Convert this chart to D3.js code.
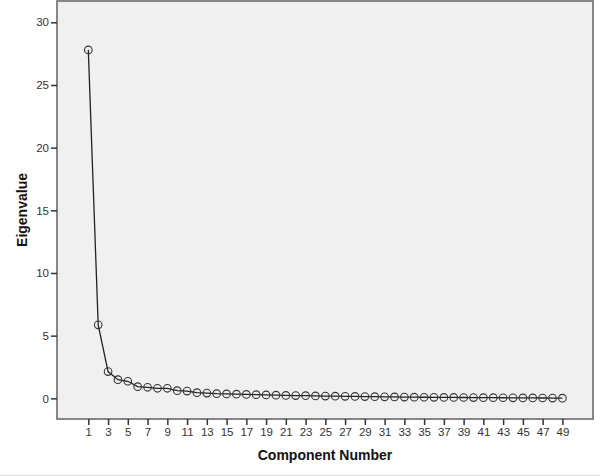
<!DOCTYPE html>
<html>
<head>
<meta charset="utf-8">
<script src="https://cdn.jsdelivr.net/npm/d3@7"></script>
<style>
  body { margin: 0; background: #fff; }
  svg { display: block; font-family: "Liberation Sans", Arial, sans-serif; }
</style>
</head>
<body>
<div id="chart"></div>
<script>
// Scree plot data: component number and eigenvalue
const components = d3.range(1, 50);
const eigenvalues = [
  27.8, 5.86, 2.13, 1.49, 1.36, 0.93, 0.88, 0.80, 0.80, 0.61,
  0.58, 0.45, 0.42, 0.37, 0.35, 0.33, 0.31, 0.29, 0.27, 0.25,
  0.23, 0.22, 0.21, 0.19, 0.18, 0.17, 0.16, 0.15, 0.14, 0.13,
  0.12, 0.11, 0.10, 0.09, 0.085, 0.08, 0.075, 0.07, 0.065, 0.06,
  0.055, 0.05, 0.045, 0.04, 0.035, 0.03, 0.025, 0.02, 0.015
];
const xTicks = d3.range(1, 50, 2);
const yTicks = [0, 5, 10, 15, 20, 25, 30];

const width = 600;
const height = 476;
// plot frame
const plotL = 57, plotR = 593, plotT = 1, plotB = 419;

const svg = d3.select('#chart')
  .append('svg')
  .attr('width', width)
  .attr('height', height);

// scales
const x = d3.scaleLinear()
  .domain([-2.17, 52.1])
  .range([plotL, plotR]);

const y = d3.scaleLinear()
  .domain([-1.65, 31.7])
  .range([plotB, plotT]);

// plot background
svg.append('rect')
  .attr('x', plotL)
  .attr('y', plotT)
  .attr('width', plotR - plotL)
  .attr('height', plotB - plotT)
  .attr('fill', '#f0f0f0');

// line connecting the points
const line = d3.line()
  .x((d, i) => x(components[i]))
  .y(d => y(d));

svg.append('path')
  .datum(eigenvalues)
  .attr('d', line)
  .attr('fill', 'none')
  .attr('stroke', '#222')
  .attr('stroke-width', 1.3);

// markers
svg.selectAll('circle.pt')
  .data(eigenvalues)
  .enter()
  .append('circle')
  .attr('class', 'pt')
  .attr('cx', (d, i) => x(components[i]))
  .attr('cy', d => y(d))
  .attr('r', 3.8)
  .attr('fill', 'none')
  .attr('stroke', '#333')
  .attr('stroke-width', 1.1);

// frame
svg.append('rect')
  .attr('x', plotL)
  .attr('y', plotT)
  .attr('width', plotR - plotL)
  .attr('height', plotB - plotT)
  .attr('fill', 'none')
  .attr('stroke', '#6a6a6a')
  .attr('stroke-width', 1.6);

// y axis
const yAxis = d3.axisLeft(y)
  .tickValues(yTicks)
  .tickSize(6)
  .tickPadding(2)
  .tickFormat(d3.format('d'));

const gy = svg.append('g')
  .attr('transform', `translate(${plotL},0)`)
  .call(yAxis);
gy.select('.domain').remove();
gy.selectAll('line').attr('stroke', '#333').attr('stroke-width', 1.5);
gy.selectAll('text').attr('font-size', 11.5).attr('fill', '#333');

// x axis
const xAxis = d3.axisBottom(x)
  .tickValues(xTicks)
  .tickSize(6)
  .tickPadding(3)
  .tickFormat(d3.format('d'));

const gx = svg.append('g')
  .attr('transform', `translate(0,${plotB})`)
  .call(xAxis);
gx.select('.domain').remove();
gx.selectAll('line').attr('stroke', '#333').attr('stroke-width', 1.5);
gx.selectAll('text').attr('font-size', 11.5).attr('fill', '#333');

// axis titles
svg.append('text')
  .attr('x', (plotL + plotR) / 2)
  .attr('y', 460)
  .attr('text-anchor', 'middle')
  .attr('font-size', 14)
  .attr('font-weight', 'bold')
  .attr('fill', '#111')
  .text('Component Number');

svg.append('text')
  .attr('transform', `translate(27,${(plotT + plotB) / 2}) rotate(-90)`)
  .attr('text-anchor', 'middle')
  .attr('font-size', 14)
  .attr('font-weight', 'bold')
  .attr('fill', '#111')
  .text('Eigenvalue');

// light separator at the bottom
svg.append('line')
  .attr('x1', 0)
  .attr('x2', width)
  .attr('y1', 475.5)
  .attr('y2', 475.5)
  .attr('stroke', '#dcdcdc')
  .attr('stroke-width', 1);
</script>
</body>
</html>
